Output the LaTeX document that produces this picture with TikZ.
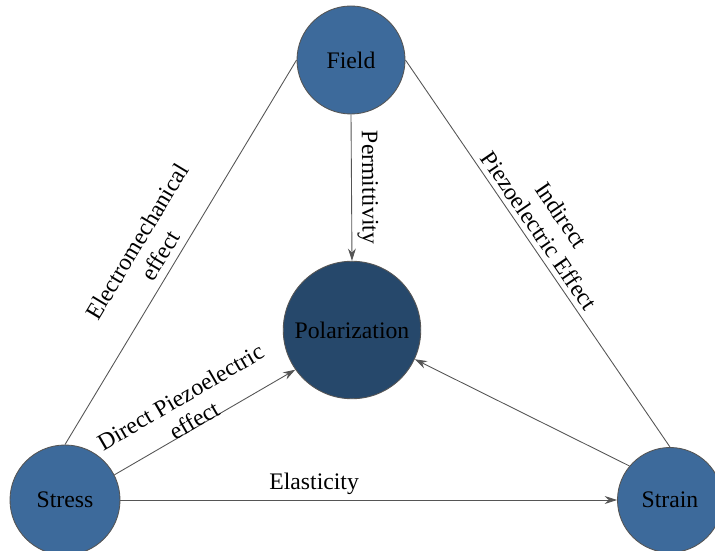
\documentclass[tikz,border=0pt]{standalone}
\usepackage{fontspec}
\setmainfont{Liberation Serif}
\usepackage{xcolor}
\usetikzlibrary{arrows.meta,positioning,shapes,calc}

\definecolor{nodeblue}{RGB}{61,106,155}
\definecolor{polarblue}{RGB}{38,72,107}
\definecolor{edgegray}{RGB}{85,85,85}

\tikzset{
  every node/.append style={font=\fontsize{13.5}{15.5}\selectfont},
  effect/.style={circle, draw=edgegray, line width=0.5pt, fill=nodeblue, inner sep=0pt},
  link/.style={draw=edgegray, line width=0.5pt},
  linkarrow/.style={link, -{Stealth[length=7pt,width=4.5pt]}},
  tag/.style={sloped, above, align=center, inner sep=3pt}
}

\begin{document}
\begin{tikzpicture}
\useasboundingbox (0,0) rectangle (14.3,11);

%circles
\node[effect, minimum size=2.16cm] (field) at (7.02, 9.8) {Field};
\node[effect, fill=polarblue, minimum size=2.75cm] (polar) at (7.04, 4.4) {Polarization};
\node[effect, minimum size=2.2cm] (stress) at (1.3, 1.0) {Stress};
\node[effect, minimum size=2.1cm] (strain) at (13.4, 1.0) {Strain};

%outer triangle
\draw[link] (stress.north) -- node[tag, pos=0.47, yshift=1pt] {Electromechanical\\effect} (field.west);
\draw[link] (field.east) -- node[tag, pos=0.45, xshift=3pt] {Indirect\\Piezoelectric Effect} (strain.north);
\draw[linkarrow] (stress.east) -- node[tag, pos=0.39] {Elasticity} (strain.west);

%into polarization
\draw[linkarrow] (stress.27) -- node[tag, pos=0.46, inner sep=0pt, yshift=-1pt] {Direct Piezoelectric\\effect} (polar.215);
\draw[linkarrow] (field.south) -- node[tag] {Permittivity} (polar.north);
\draw[linkarrow] (strain.140) -- (polar.-25);
\end{tikzpicture}
\end{document}
